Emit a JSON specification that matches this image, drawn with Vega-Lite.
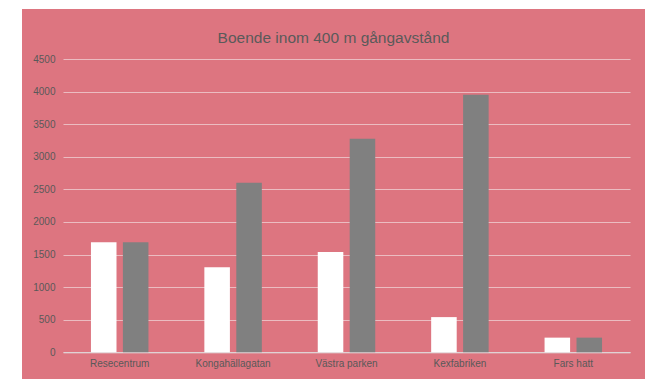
{
  "$schema": "https://vega.github.io/schema/vega-lite/v6.json",
  "autosize": {"type": "none"},
  "padding": {"left": 22, "top": 9, "right": 0, "bottom": 0},
  "width": 623,
  "height": 370,
  "background": "#ffffff",
  "title": {
    "text": "Boende inom 400 m gångavstånd",
    "anchor": "middle",
    "frame": "group",
    "offset": -49,
    "baseline": "alphabetic",
    "font": "Liberation Sans",
    "fontSize": 15.5,
    "fontWeight": "normal",
    "color": "#5a5a5a"
  },
  "data": {
    "values": [
      {"plats": "Resecentrum", "serie": "Nuläge", "boende": 1690},
      {"plats": "Resecentrum", "serie": "Framtida", "boende": 1690},
      {"plats": "Kongahällagatan", "serie": "Nuläge", "boende": 1306},
      {"plats": "Kongahällagatan", "serie": "Framtida", "boende": 2600},
      {"plats": "Västra parken", "serie": "Nuläge", "boende": 1540},
      {"plats": "Västra parken", "serie": "Framtida", "boende": 3275},
      {"plats": "Kexfabriken", "serie": "Nuläge", "boende": 540},
      {"plats": "Kexfabriken", "serie": "Framtida", "boende": 3950},
      {"plats": "Fars hatt", "serie": "Nuläge", "boende": 225},
      {"plats": "Fars hatt", "serie": "Framtida", "boende": 225}
    ]
  },
  "mark": {"type": "bar"},
  "encoding": {
    "x": {
      "field": "plats",
      "type": "nominal",
      "sort": ["Resecentrum", "Kongahällagatan", "Västra parken", "Kexfabriken", "Fars hatt"],
      "scale": {"range": [41, 608], "paddingInner": 0.493, "paddingOuter": 0.2465},
      "axis": {
        "title": null,
        "offset": -26.7,
        "labelAngle": 0,
        "labelPadding": 6,
        "labelFont": "Liberation Sans",
        "labelFontSize": 10,
        "labelColor": "#595959",
        "ticks": false,
        "tickSize": 0,
        "domain": true,
        "domainColor": "#dcdcdc",
        "domainWidth": 1,
        "grid": false
      }
    },
    "xOffset": {
      "field": "serie",
      "type": "nominal",
      "sort": ["Nuläge", "Framtida"],
      "scale": {"paddingInner": 0.2, "paddingOuter": 0}
    },
    "y": {
      "field": "boende",
      "type": "quantitative",
      "scale": {"domain": [0, 4500], "range": [343.3, 50], "nice": false},
      "axis": {
        "title": null,
        "offset": -41,
        "format": "d",
        "values": [0, 500, 1000, 1500, 2000, 2500, 3000, 3500, 4000, 4500],
        "labelPadding": 8,
        "labelFont": "Liberation Sans",
        "labelFontSize": 10,
        "labelColor": "#595959",
        "ticks": false,
        "tickSize": 0,
        "domain": false,
        "grid": true,
        "gridColor": "#ebbcc1",
        "gridWidth": 1
      }
    },
    "color": {
      "field": "serie",
      "type": "nominal",
      "sort": ["Nuläge", "Framtida"],
      "scale": {"domain": ["Nuläge", "Framtida"], "range": ["#ffffff", "#808080"]},
      "legend": null
    }
  },
  "config": {
    "view": {"fill": "#dd7580", "stroke": null}
  }
}
